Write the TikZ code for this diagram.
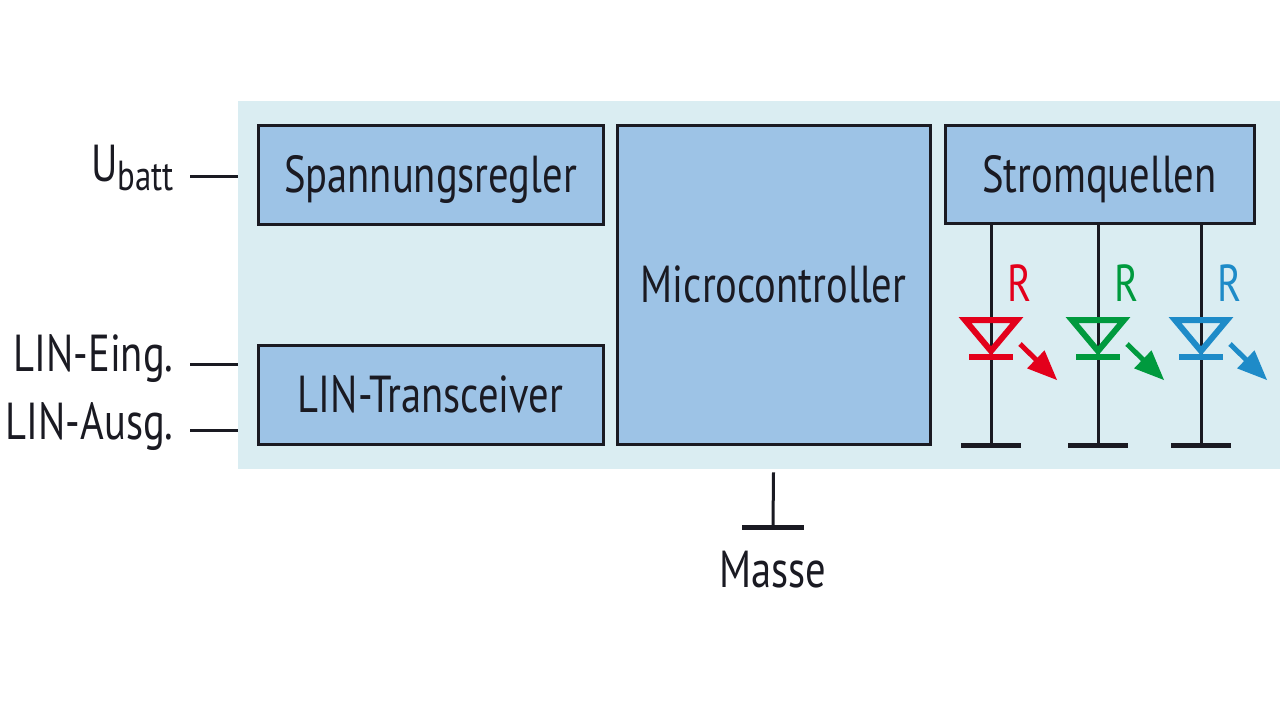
\documentclass[tikz,border=0pt]{standalone}
\usepackage{fontspec}
\setmainfont{PT Sans}[FakeStretch=0.78]
\usepackage{tikz}
\usetikzlibrary{calc}
\usetikzlibrary{arrows,shapes}
\usetikzlibrary{positioning}
\definecolor{panelbg}{HTML}{DAEDF2}
\definecolor{boxfill}{HTML}{9DC3E6}
\definecolor{ink}{HTML}{1A1A22}
\definecolor{ledred}{HTML}{E3001B}
\definecolor{ledgreen}{HTML}{009A3E}
\definecolor{ledblue}{HTML}{1E8BC8}
\tikzset{
  block/.style={draw=ink,line width=1.5pt,fill=boxfill,font=\fontsize{26}{29}\selectfont,text=ink,inner sep=0pt,text height=18pt,text depth=0pt},
  lbl/.style={font=\fontsize{26}{29}\selectfont,text=ink,inner sep=0pt},
  wire/.style={draw=ink,line width=1.5pt},
  gndbar/.style={draw=ink,line width=2.5pt},
}
\begin{document}
\begin{tikzpicture}[x=0.5pt,y=-0.5pt]
        \useasboundingbox (0,0) rectangle (1280,719);
        % panel and blocks
        \node[fill=panelbg,minimum width=521pt,minimum height=184pt,inner sep=0pt] (panel) at (759,285) {};
        \node[block,minimum width=172.5pt,minimum height=49.5pt] (regler) at (430.5,174.5) {Spannungsregler};
        \node[block,minimum width=172.5pt,minimum height=49.5pt] (lin) at (430.5,394.5) {LIN-Transceiver};
        \node[block,minimum width=156.5pt,minimum height=159.5pt] (micro) at (773.5,284.5) {Microcontroller};
        \node[block,minimum width=154.5pt,minimum height=49pt] (strom) at (1099.5,174) {Stromquellen};
        % inputs
        \node[lbl,anchor=east] (ubatt) at (174,168) {U\raisebox{-0.35ex}{\fontsize{21}{23}\selectfont batt}};
        \node[lbl,anchor=east] (eing) at (174,359) {LIN-Eing.};
        \node[lbl,anchor=east] (ausg) at (174,427) {LIN-Ausg.};
        \draw[wire] (190,176) coordinate (u0) -- (u0 -| panel.west);
        \draw[wire] (190,364) coordinate (e0) -- (e0 -| panel.west);
        \draw[wire] (190,430) coordinate (a0) -- (a0 -| panel.west);
        % LEDs
        \foreach \x/\c/\n in {991/ledred/r,1098/ledgreen/g,1201/ledblue/b}{
          \coordinate (gnd\n) at (\x,445);
          \draw[wire] (strom.south -| gnd\n) -- (gnd\n);
          \draw[gndbar] ([xshift=-15pt]gnd\n) -- ([xshift=15pt]gnd\n);
          \draw[\c,line width=3pt,line join=miter] (\x-26,320) -- (\x+26,320) -- (\x,351) -- cycle;
          \draw[\c,line width=3pt] (\x-22,357) -- (\x+22,357);
          \draw[\c,line width=2.5pt,-triangle 45] (\x+29,344) -- (\x+66,380);
          \node[lbl,text=\c] (r\n) at (\x+29,283) {R};
        }
        % ground
        \coordinate (gm) at (773,527);
        \draw[wire] ([yshift=-1.5pt]panel.south -| micro.south) -- (gm);
        \draw[gndbar] ([xshift=-15.5pt]gm) -- ([xshift=15.5pt]gm);
        \node[lbl,below=12pt of gm] (masse) {Masse};
      \end{tikzpicture}
\end{document}
